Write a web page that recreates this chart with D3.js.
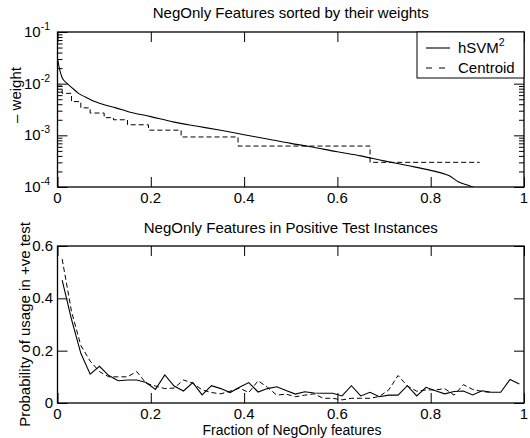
<!DOCTYPE html>
<html><head><meta charset="utf-8">
<script src="https://cdn.jsdelivr.net/npm/d3@7"></script>
<style>
body{margin:0;background:#fff;}
svg text{font-family:"Liberation Sans",Arial,Helvetica,sans-serif;fill:#000;}
</style></head>
<body><svg id="c" width="530" height="438"></svg>
<script>
// ---- data ----
const topTitle = "NegOnly Features sorted by their weights";
const botTitle = "NegOnly Features in Positive Test Instances";
const xLabel = "Fraction of NegOnly features";
const topYLabel = "\u2013 weight";
const botYLabel = "Probability of usage in +ve test";
const seriesNames = ["hSVM", "Centroid"];

const xTicks = [0, 0.2, 0.4, 0.6, 0.8, 1];
const xTickLabels = ["0", "0.2", "0.4", "0.6", "0.8", "1"];
const topYTicks = [1e-4, 1e-3, 1e-2, 1e-1];
const topYTickExp = ["-4", "-3", "-2", "-1"];
const botYTicks = [0, 0.2, 0.4, 0.6];
const botYTickLabels = ["0", "0.2", "0.4", "0.6"];

// top: hSVM^2 sorted weights
const svmWX = [0,0.005,0.01,0.02,0.03,0.045,0.06,0.08,0.1,0.125,0.15,0.2,0.25,0.3,0.35,0.4,0.45,0.5,0.54,0.6,0.65,0.7,0.75,0.8,0.82,0.84,0.86,0.88,0.89,0.9];
const svmW = [0.031,0.018,0.013,0.0102,0.0085,0.0065,0.0055,0.0045,0.0039,0.0034,0.0029,0.0023,0.0018,0.0015,0.00125,0.00103,0.00085,0.0007,0.00061,0.00048,0.0004,0.00032,0.00026,0.00021,0.00019,0.000165,0.000125,0.000108,0.0001,0.00009];
// top: Centroid sorted weights (step levels)
const centWX = [0,0.01,0.03,0.05,0.07,0.1,0.12,0.15,0.195,0.265,0.387,0.67,0.905];
const centW = [0.009,0.0065,0.0045,0.0034,0.0027,0.0022,0.002,0.0016,0.00126,0.00093,0.00062,0.0003,0.0003];

// bottom: probability of usage
const svmPX = [0.01,0.03,0.05,0.07,0.09,0.11,0.13,0.15,0.17,0.19,0.21,0.23,0.25,0.27,0.29,0.31,0.33,0.35,0.37,0.39,0.41,0.43,0.45,0.47,0.49,0.51,0.53,0.55,0.57,0.59,0.61,0.63,0.65,0.67,0.69,0.71,0.73,0.75,0.77,0.79,0.81,0.83,0.85,0.87,0.89,0.91,0.93,0.95,0.97,0.99];
const svmP = [0.47,0.32,0.19,0.11,0.14,0.105,0.085,0.088,0.088,0.078,0.052,0.107,0.065,0.046,0.078,0.031,0.066,0.055,0.04,0.06,0.078,0.042,0.055,0.062,0.048,0.034,0.043,0.038,0.037,0.037,0.027,0.066,0.027,0.041,0.024,0.03,0.03,0.066,0.027,0.06,0.047,0.035,0.044,0.046,0.031,0.047,0.041,0.041,0.09,0.073];
const centPX = [0.01,0.03,0.05,0.07,0.09,0.11,0.13,0.15,0.17,0.19,0.21,0.23,0.25,0.27,0.29,0.31,0.33,0.35,0.37,0.39,0.41,0.43,0.45,0.47,0.49,0.51,0.53,0.55,0.57,0.59,0.61,0.63,0.65,0.67,0.69,0.71,0.73,0.75,0.77,0.79,0.81,0.83,0.85,0.87,0.89,0.91,0.93];
const centP = [0.55,0.35,0.22,0.16,0.12,0.10,0.10,0.10,0.12,0.075,0.065,0.055,0.057,0.088,0.076,0.05,0.04,0.035,0.045,0.057,0.04,0.085,0.06,0.03,0.034,0.024,0.03,0.035,0.018,0.018,0.012,0.018,0.018,0.018,0.025,0.05,0.105,0.065,0.045,0.05,0.05,0.055,0.03,0.07,0.052,0.044,0.04];

// ---- layout ----
const svg = d3.select("#c");
const L = 57.5, R = 524;
const top1 = 32, bot1 = 187, top2 = 246, bot2 = 403;
const FS = 15;
const SUP = 10.5;
const DASH = "5,3";
const TL = 10, TLm = 5;

const x = d3.scaleLinear().domain([0,1]).range([L,R]);
const y1 = d3.scaleLog().domain([1e-4,1e-1]).range([bot1,top1]);
const y2 = d3.scaleLinear().domain([0,0.6]).range([bot2,top2]);

function clip(id, yT, yB){
  svg.append("clipPath").attr("id",id).append("rect")
    .attr("x",L).attr("y",yT).attr("width",R-L).attr("height",yB-yT);
}
clip("c1",top1,bot1); clip("c2",top2,bot2);

function xAxes(yT, yB){
  const g = svg.append("g");
  g.append("g").attr("transform",`translate(0,${yB})`)
    .call(d3.axisBottom(x).tickValues(xTicks).tickSize(-TL).tickFormat(""))
    .call(s=>s.select(".domain").remove());
  g.append("g").attr("transform",`translate(0,${yT})`)
    .call(d3.axisTop(x).tickValues(xTicks).tickSize(-TL).tickFormat(""))
    .call(s=>s.select(".domain").remove());
  g.selectAll("line").attr("stroke","#000").attr("stroke-width",1);
  g.selectAll("text.xl").data(xTicks).enter().append("text")
    .attr("x",d=>x(d)).attr("y",yB+15.5).attr("text-anchor","middle")
    .attr("font-size",FS).text((d,i)=>xTickLabels[i]);
}

// ---------- top plot ----------
xAxes(top1, bot1);
{
  const g = svg.append("g");
  const minor = [];
  for (const dec of [1e-4,1e-3,1e-2]) for (const m of [2,3,4,5,6,7,8,9]) minor.push(dec*m);
  g.append("g").attr("transform",`translate(${L},0)`)
    .call(d3.axisLeft(y1).tickValues(topYTicks).tickSize(-TL).tickFormat(""))
    .call(s=>s.select(".domain").remove());
  g.append("g").attr("transform",`translate(${L},0)`)
    .call(d3.axisLeft(y1).tickValues(minor).tickSize(-TLm).tickFormat(""))
    .call(s=>s.select(".domain").remove());
  g.append("g").attr("transform",`translate(${R},0)`)
    .call(d3.axisRight(y1).tickValues(topYTicks).tickSize(-TL).tickFormat(""))
    .call(s=>s.select(".domain").remove());
  g.append("g").attr("transform",`translate(${R},0)`)
    .call(d3.axisRight(y1).tickValues(minor).tickSize(-TLm).tickFormat(""))
    .call(s=>s.select(".domain").remove());
  g.selectAll("line").attr("stroke","#000").attr("stroke-width",1);
  topYTicks.forEach((d,i)=>{
    const t = g.append("text").attr("x",50).attr("y",y1(d)+5).attr("text-anchor","end").attr("font-size",FS);
    t.append("tspan").text("10");
    t.append("tspan").attr("font-size",SUP).attr("dy",-7).text(topYTickExp[i]);
  });
}
const lineTopSvm = d3.line().x((d,i)=>x(svmWX[i])).y(d=>y1(d)).curve(d3.curveMonotoneX);
svg.append("path").attr("clip-path","url(#c1)").datum(svmW)
  .attr("d",lineTopSvm).attr("fill","none").attr("stroke","#000").attr("stroke-width",1.1);
const lineTopCent = d3.line().x((d,i)=>x(centWX[i])).y(d=>y1(d)).curve(d3.curveStepAfter);
svg.append("path").attr("clip-path","url(#c1)").datum(centW)
  .attr("d",lineTopCent).attr("fill","none").attr("stroke","#000").attr("stroke-width",1)
  .attr("stroke-dasharray",DASH);
svg.append("rect").attr("x",L).attr("y",top1).attr("width",R-L).attr("height",bot1-top1)
  .attr("fill","none").attr("stroke","#000").attr("stroke-width",1.3);

// legend
{
  const lg = svg.append("g");
  lg.append("rect").attr("x",417).attr("y",top1).attr("width",R-417).attr("height",46)
    .attr("fill","#fff").attr("stroke","#000").attr("stroke-width",1);
  lg.append("line").attr("x1",426).attr("x2",450).attr("y1",48).attr("y2",48)
    .attr("stroke","#000").attr("stroke-width",1.1);
  lg.append("line").attr("x1",426).attr("x2",452).attr("y1",68).attr("y2",68)
    .attr("stroke","#000").attr("stroke-width",1).attr("stroke-dasharray","6,7");
  const t1 = lg.append("text").attr("x",458).attr("y",53).attr("font-size",FS);
  t1.append("tspan").text(seriesNames[0]);
  t1.append("tspan").attr("font-size",SUP).attr("dy",-7).text("2");
  lg.append("text").attr("x",458).attr("y",73).attr("font-size",FS).text(seriesNames[1]);
}

svg.append("text").attr("x",(L+R)/2).attr("y",18).attr("text-anchor","middle").attr("font-size",FS).text(topTitle);
svg.append("text").attr("transform",`translate(21,95) rotate(-90)`).attr("text-anchor","middle").attr("font-size",FS).text(topYLabel);

// ---------- bottom plot ----------
xAxes(top2, bot2);
{
  const g = svg.append("g");
  g.append("g").attr("transform",`translate(${L},0)`)
    .call(d3.axisLeft(y2).tickValues(botYTicks).tickSize(-TL).tickFormat(""))
    .call(s=>s.select(".domain").remove());
  g.append("g").attr("transform",`translate(${R},0)`)
    .call(d3.axisRight(y2).tickValues(botYTicks).tickSize(-TL).tickFormat(""))
    .call(s=>s.select(".domain").remove());
  g.selectAll("line").attr("stroke","#000").attr("stroke-width",1);
  botYTicks.forEach((d,i)=>{
    g.append("text").attr("x",53).attr("y",y2(d)+5).attr("text-anchor","end").attr("font-size",FS).text(botYTickLabels[i]);
  });
}
const lineBotSvm = d3.line().x((d,i)=>x(svmPX[i])).y(d=>y2(d));
svg.append("path").attr("clip-path","url(#c2)").datum(svmP)
  .attr("d",lineBotSvm).attr("fill","none").attr("stroke","#000").attr("stroke-width",1.1);
const lineBotCent = d3.line().x((d,i)=>x(centPX[i])).y(d=>y2(d));
svg.append("path").attr("clip-path","url(#c2)").datum(centP)
  .attr("d",lineBotCent).attr("fill","none").attr("stroke","#000").attr("stroke-width",1)
  .attr("stroke-dasharray",DASH);
svg.append("rect").attr("x",L).attr("y",top2).attr("width",R-L).attr("height",bot2-top2)
  .attr("fill","none").attr("stroke","#000").attr("stroke-width",1.3);

svg.append("text").attr("x",(L+R)/2).attr("y",233).attr("text-anchor","middle").attr("font-size",FS).text(botTitle);
svg.append("text").attr("x",292).attr("y",434.5).attr("text-anchor","middle").attr("font-size",14).text(xLabel);
svg.append("text").attr("transform",`translate(30,324.5) rotate(-90)`).attr("text-anchor","middle").attr("font-size",FS).text(botYLabel);
</script></body></html>
